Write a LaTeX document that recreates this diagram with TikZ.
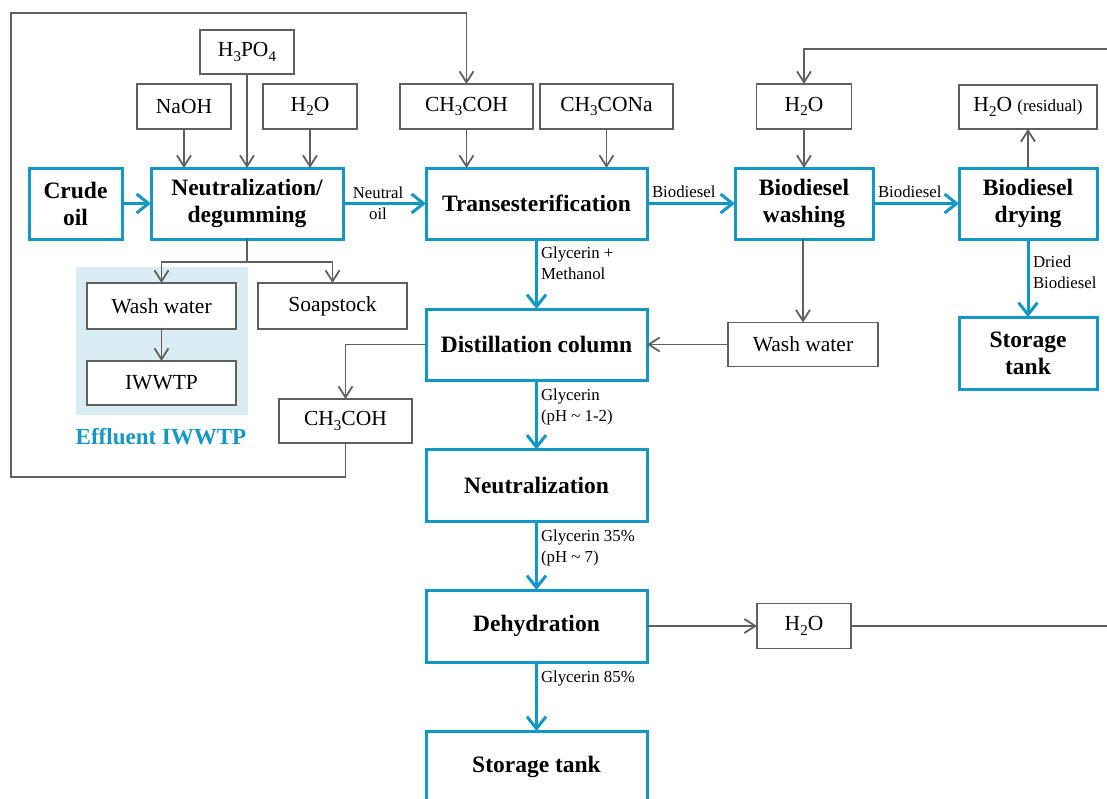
\documentclass[tikz,border=0pt]{standalone}
\usepackage{fontspec}
\setmainfont{Liberation Serif}
\usetikzlibrary{arrows.meta}
\definecolor{flowblue}{RGB}{18,152,199}
\definecolor{linegray}{RGB}{96,96,96}
\definecolor{zonefill}{RGB}{217,236,243}
\newcommand{\sub}[1]{\raisebox{-0.45ex}{\fontsize{15}{15}\selectfont #1}}

\begin{document}
\begin{tikzpicture}[x=1pt,y=-1pt,
  every node/.style={inner sep=0pt, outer sep=0pt},
  gbox/.style={draw=linegray, line width=1.8pt, fill=white, align=center,
    font=\fontsize{21.5}{24}\selectfont},
  bbox/.style={draw=flowblue, line width=3pt, fill=white, align=center,
    font=\bfseries\fontsize{23.5}{27}\selectfont},
  gline/.style={draw=linegray, line width=1.8pt},
  garrow/.style={gline, -{Straight Barb[length=11pt,width=14pt]}},
  barrow/.style={draw=flowblue, line width=3pt, -{Straight Barb[length=12pt,width=19pt]}},
  lbl/.style={font=\fontsize{16.8}{20.5}\selectfont, align=left, anchor=north west},
]
\useasboundingbox (0,0) rectangle (1107,798);
\clip (0,0) rectangle (1107,798);

% effluent treatment zone
\node[fill=zonefill, minimum width=172pt, minimum height=148pt] (zone) at (162,341) {};
\node[font=\bfseries\fontsize{23}{26}\selectfont, text=flowblue] (zonelbl) at (161,437) {Effluent IWWTP};

% feed and by-product streams
\node[gbox, minimum width=94pt, minimum height=44pt] (h3po4) at (247,52) {H\sub{3}PO\sub{4}};
\node[gbox, minimum width=94pt, minimum height=45pt] (naoh) at (184,106.5) {NaOH};
\node[gbox, minimum width=94pt, minimum height=45pt] (h2oA) at (310,106.5) {H\sub{2}O};
\node[gbox, minimum width=133pt, minimum height=45pt] (ch3cohT) at (466.5,106.5) {CH\sub{3}COH};
\node[gbox, minimum width=133pt, minimum height=45pt] (ch3cona) at (606.5,106.5) {CH\sub{3}CONa};
\node[gbox, minimum width=95pt, minimum height=45pt] (h2oW) at (804,106.5) {H\sub{2}O};
\node[gbox, minimum width=138pt, minimum height=44pt] (h2oR) at (1028,107) {H\sub{2}O {\fontsize{17}{20}\selectfont(residual)}};
\node[gbox, minimum width=149pt, minimum height=46pt] (washL) at (161.5,306) {Wash water};
\node[gbox, minimum width=149pt, minimum height=44pt] (iwwtp) at (161.5,383) {IWWTP};
\node[gbox, minimum width=149pt, minimum height=46pt] (soap) at (332.5,306) {Soapstock};
\node[gbox, minimum width=133pt, minimum height=44pt] (ch3cohL) at (345.5,421) {CH\sub{3}COH};
\node[gbox, minimum width=150pt, minimum height=44pt] (washR) at (803,344.5) {Wash water};
\node[gbox, minimum width=94pt, minimum height=45pt] (h2oD) at (804,626) {H\sub{2}O};

% main process units
\node[bbox, minimum width=93pt, minimum height=71pt] (crude) at (75.5,203.5) {Crude\\oil};
\node[bbox, minimum width=192pt, minimum height=71pt] (ndeg) at (247,203.5) {Neutralization/\\degumming};
\node[bbox, minimum width=221pt, minimum height=71pt] (trans) at (536.5,203.5) {Transesterification};
\node[bbox, minimum width=138pt, minimum height=71pt] (wash) at (804,203.5) {Biodiesel\\washing};
\node[bbox, minimum width=138pt, minimum height=71pt] (dry) at (1028,203.5) {Biodiesel\\drying};
\node[bbox, minimum width=138pt, minimum height=72pt] (storR) at (1028,353) {Storage\\tank};
\node[bbox, minimum width=221pt, minimum height=71pt] (dist) at (536.5,344.5) {Distillation column};
\node[bbox, minimum width=221pt, minimum height=72pt] (neut) at (536.5,485.5) {Neutralization};
\node[bbox, minimum width=221pt, minimum height=72pt] (dehy) at (536.5,626) {Dehydration};
\node[bbox, minimum width=221pt, minimum height=72pt] (storB) at (536.5,767) {Storage tank};

% routing points
\coordinate (split) at (247,262);
\coordinate (loopBL) at (11,477);
\coordinate (loopTL) at (11,13);
\coordinate (loopTR) at (1125,49);
\coordinate (loopBR) at (1125,626);

% reagent feeds
\draw[garrow] (naoh.south) -- (naoh.south |- ndeg.north);
\draw[garrow] (h3po4.south) -- (h3po4.south |- ndeg.north);
\draw[garrow] (h2oA.south) -- (h2oA.south |- ndeg.north);
\draw[garrow] (ch3cohT.south) -- (ch3cohT.south |- trans.north);
\draw[garrow] (ch3cona.south) -- (ch3cona.south |- trans.north);
\draw[garrow] (h2oW.south) -- (h2oW.south |- wash.north);
\draw[garrow] (dry.north) -- (h2oR.south);

% degumming by-products
\draw[gline] (ndeg.south) -- (split);
\draw[garrow] (split) -| (washL.north);
\draw[garrow] (split) -| (soap.north);
\draw[garrow] (washL.south) -- (iwwtp.north);

% wash water and recycles
\draw[garrow] (washR.north |- wash.south) -- (washR.north);
\draw[garrow] (washR.west) -- (dist.east);
\draw[garrow] (dist.west) -| (ch3cohL.north);
\draw[garrow] (ch3cohL.south) |- (loopBL) -- (loopTL) -| (ch3cohT.north);
\draw[garrow] (dehy.east) -- (h2oD.west);
\draw[garrow] (h2oD.east) -- (loopBR) -- (loopTR) -| (h2oW.north);

% main product line
\draw[barrow] (crude.east) -- (ndeg.west);
\draw[barrow] (ndeg.east) -- (trans.west);
\draw[barrow] (trans.east) -- (wash.west);
\draw[barrow] (wash.east) -- (dry.west);
\draw[barrow] (dry.south) -- (storR.north);
\draw[barrow] (trans.south) -- (dist.north);
\draw[barrow] (dist.south) -- (neut.north);
\draw[barrow] (neut.south) -- (dehy.north);
\draw[barrow] (dehy.south) -- (storB.north);

% stream labels
\node[font=\fontsize{16.8}{20.5}\selectfont, align=center] (lNeutral) at (378,203) {Neutral\\oil};
\node[font=\fontsize{16.8}{20}\selectfont, anchor=base west] (lBio1) at (652,197) {Biodiesel};
\node[font=\fontsize{16.8}{20}\selectfont, anchor=base west] (lBio2) at (878,197) {Biodiesel};
\node[lbl] (lDried) at (1033,256) {Dried\\Biodiesel};
\node[lbl] (lGM) at (541,247) {Glycerin +\\Methanol};
\node[lbl] (lG12) at (541,389) {Glycerin\\(pH \textasciitilde{} 1-2)};
\node[lbl] (lG35) at (541,530) {Glycerin 35\%\\(pH \textasciitilde{} 7)};
\node[lbl] (lG85) at (541,671) {Glycerin 85\%};
\end{tikzpicture}
\end{document}
